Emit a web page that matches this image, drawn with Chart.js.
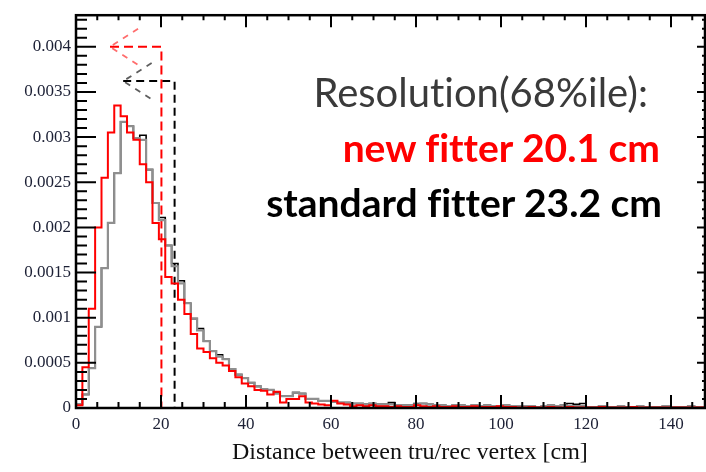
<!DOCTYPE html>
<html>
<head>
<meta charset="utf-8">
<script src="https://cdn.jsdelivr.net/npm/chart.js@4/dist/chart.umd.min.js"></script>
<style>
  html, body { margin: 0; padding: 0; background: #fff; }
  #wrap { position: relative; width: 706px; height: 472px; overflow: hidden; }
  #histChart { position: absolute; left: 0; top: 0; }
  .note { position: absolute; white-space: nowrap; line-height: 1; font-family: Lato, "Open Sans", sans-serif;
          font-variant-ligatures: none; }
  #xTitle { position: absolute; left: 232px; top: 439px; white-space: nowrap; line-height: 1;
            font-family: "Liberation Serif", serif; font-size: 24px; color: #111; }
</style>
</head>
<body>
<div id="wrap">
  <canvas id="histChart" width="706" height="472"></canvas>
  <div class="note" style="right:58px; top:72px; font-size:40px; color:#3a3a3a;">Resolution(68%ile):</div>
  <div class="note" style="right:46px; top:128px; font-size:39px; font-weight:bold; color:#ff0000;">new fitter 20.1 cm</div>
  <div class="note" style="right:44px; top:183px; font-size:39px; font-weight:bold; color:#000;">standard fitter 23.2 cm</div>
  <div id="xTitle">Distance between tru/rec vertex [cm]</div>
</div>
<script>
// histogram bins, 1.5 cm wide, starting at 0
const binWidth = 1.5;

const newFitter = [
  0.00003, 0.00045, 0.0011, 0.002, 0.00255, 0.00305, 0.00335, 0.00323, 0.00305, 0.00297,
  0.0027, 0.0025, 0.00205, 0.00187, 0.00145, 0.00138, 0.0012, 0.00104, 0.00082, 0.00066,
  0.00062, 0.00055, 0.0005, 0.00047, 0.00041, 0.00034, 0.00027, 0.00024, 0.0002, 0.00019,
  0.00015, 0.00018, 0.00006, 0.0001, 0.0001, 0.00013, 0.00006, 0.00005, 0.00004, 0.00003,
  0.00008, 0.00005, 0.00004, 0.00002, 0.00003, 0.00002, 0.00003, 0.00002, 0.00002, 0.00001,
  0.00002, 0.00001, 0.00001, 0.00003, 0.00002, 0.00001, 0.00002, 0.00001, 0.00001, 0.00002,
  0.00001, 0.00001, 0.00002, 0.00001, 0.00001, 0.00001, 0.00002, 0.00001, 0.00001, 0.000005,
  0.000005, 0.00001, 0.000005, 0.000005, 0.00001, 0.000005, 0.000005, 0.00001, 0.000005, 0.000005,
  0.000005, 0.000005, 0.00001, 0.000005, 0.000005, 0.000005, 0.000005, 0.00001, 0.000005, 0.000005,
  0.000005, 0.000005, 0.000005, 0.000005, 0.000005, 0.000005, 0.000005, 0.000005, 0.000005
];

const standardFitter = [
  0.00004, 0.00015, 0.00044, 0.0009, 0.00155, 0.00205, 0.0026, 0.00317, 0.00312, 0.00299,
  0.00302, 0.00264, 0.00227, 0.00211, 0.0018, 0.0016, 0.00141, 0.00116, 0.00099, 0.00088,
  0.00074, 0.00063, 0.00059, 0.00054, 0.00043, 0.00037, 0.00033, 0.00028, 0.00024, 0.00021,
  0.0002, 0.00017, 0.00013, 0.00013, 0.00017, 0.00016, 0.0001, 0.0001, 0.00008, 0.00008,
  0.00007, 0.00006, 0.00006, 0.00005, 0.00005, 0.00004, 0.00005, 0.00004, 0.00004, 0.00006,
  0.00003, 0.00003, 0.00003, 0.00005, 0.00005, 0.00004, 0.00003, 0.00003, 0.00002, 0.00003,
  0.00003, 0.00002, 0.00003, 0.00002, 0.00003, 0.00002, 0.00002, 0.00003, 0.00002, 0.00002,
  0.00002, 0.00002, 0.00001, 0.00002, 0.00003, 0.00002, 0.00003, 0.00005, 0.00004, 0.00005,
  0.00001, 0.00001, 0.00002, 0.00001, 0.00001, 0.00002, 0.00001, 0.00001, 0.00002, 0.00001,
  0.00001, 0.00001, 0.00002, 0.00001, 0.00001, 0.00001, 0.00002, 0.00001, 0.00001
];

// second (grey) copy of the standard sample
const standardGrey = [
  0.00004, 0.00015, 0.00044, 0.0009, 0.00155, 0.00205, 0.0026, 0.00317, 0.00312, 0.00299,
  0.00297, 0.00264, 0.00227, 0.00208, 0.0018, 0.00157, 0.00138, 0.00116, 0.00099, 0.00086,
  0.00074, 0.00063, 0.00057, 0.00054, 0.00043, 0.00037, 0.00033, 0.00028, 0.00024, 0.00021,
  0.0002, 0.00016, 0.00013, 0.00013, 0.00017, 0.00016, 0.0001, 0.0001, 0.00008, 0.00008,
  0.00007, 0.00006, 0.00006, 0.00005, 0.00005, 0.00004, 0.00005, 0.00004, 0.00004, 0.00004,
  0.00003, 0.00003, 0.00003, 0.00004, 0.00005, 0.00004, 0.00003, 0.00003, 0.00002, 0.00003,
  0.00003, 0.00002, 0.00003, 0.00002, 0.00003, 0.00002, 0.00002, 0.00003, 0.00002, 0.00002,
  0.00002, 0.00002, 0.00001, 0.00002, 0.00003, 0.00002, 0.00003, 0.00002, 0.00002, 0.00002,
  0.00001, 0.00001, 0.00002, 0.00001, 0.00001, 0.00002, 0.00001, 0.00001, 0.00002, 0.00001,
  0.00001, 0.00001, 0.00002, 0.00001, 0.00001, 0.00001, 0.00002, 0.00001, 0.00001
];

// 68% resolution markers: [new, standard]
const resolution = [20.1, 23.2];
const markerTop = [0.004, 0.00362];
const arrowTip = [8, 11.1];
const arrowTail = [14.6, 17.8];
const arrowSpread = 0.0002;

const xTicks = [0, 20, 40, 60, 80, 100, 120, 140];
const xTickLabels = ["0", "20", "40", "60", "80", "100", "120", "140"];
const yTicks = [0, 0.0005, 0.001, 0.0015, 0.002, 0.0025, 0.003, 0.0035, 0.004];
const yTickLabels = ["0", "0.0005", "0.001", "0.0015", "0.002", "0.0025", "0.003", "0.0035", "0.004"];

const xMax = 148;
const yMax = 0.00435;

function histPoints(values) {
  const pts = [{ x: 0, y: 0 }];
  values.forEach((v, i) => pts.push({ x: i * binWidth, y: v }));
  pts.push({ x: values.length * binWidth, y: values[values.length - 1] });
  return pts;
}

function markerLine(i) {
  return [
    { x: arrowTip[i], y: markerTop[i] },
    { x: resolution[i], y: markerTop[i] },
    { x: resolution[i], y: 0 }
  ];
}

function arrowHead(i) {
  return [
    { x: arrowTail[i], y: markerTop[i] + arrowSpread },
    { x: arrowTip[i], y: markerTop[i] },
    { x: arrowTail[i], y: markerTop[i] - arrowSpread }
  ];
}

const histStyle = { stepped: true, pointRadius: 0, fill: false, tension: 0 };
const dashStyle = { pointRadius: 0, fill: false, tension: 0, borderWidth: 2 };

// frame with inward ticks on all four sides
const frameTicks = {
  id: "frameTicks",
  afterDatasetsDraw(chart) {
    const { ctx, chartArea: a, scales: { x, y } } = chart;
    ctx.save();
    ctx.strokeStyle = "#000";
    ctx.lineWidth = 2;
    ctx.beginPath();
    for (let v = 0; v <= xMax; v += 5) {
      const px = x.getPixelForValue(v);
      const major = v % 20 === 0;
      ctx.moveTo(px, a.bottom); ctx.lineTo(px, a.bottom - (major ? 13 : 6));
      ctx.moveTo(px, a.top); ctx.lineTo(px, a.top + (major ? 12 : 5));
    }
    for (let i = 0; i * 0.0001 <= yMax; i++) {
      const py = y.getPixelForValue(i * 0.0001);
      const major = i % 5 === 0;
      ctx.moveTo(a.left, py); ctx.lineTo(a.left + (major ? 20 : 11), py);
      ctx.moveTo(a.right, py); ctx.lineTo(a.right - (major ? 8 : 3), py);
    }
    ctx.stroke();
    ctx.lineWidth = 2.5;
    ctx.strokeRect(a.left, a.top, a.right - a.left, a.bottom - a.top);
    ctx.restore();
  }
};

new Chart(document.getElementById("histChart").getContext("2d"), {
  type: "line",
  data: {
    datasets: [
      { ...histStyle, data: histPoints(newFitter), borderColor: "#ff0000", borderWidth: 2, order: 0 },
      { ...histStyle, data: histPoints(standardGrey), borderColor: "#8f8f8f", borderWidth: 2.2, order: 1 },
      { ...histStyle, data: histPoints(standardFitter), borderColor: "#000000", borderWidth: 1.6, order: 2 },
      { ...dashStyle, data: markerLine(0), borderColor: "#ff0000", borderDash: [9, 5], order: 3 },
      { ...dashStyle, data: markerLine(1), borderColor: "#000000", borderDash: [8, 5], order: 3 },
      { ...dashStyle, data: arrowHead(0), borderColor: "rgba(255,60,60,0.75)", borderWidth: 1.8, borderDash: [6, 6], order: 3 },
      { ...dashStyle, data: arrowHead(1), borderColor: "rgba(40,40,40,0.75)", borderWidth: 1.8, borderDash: [6, 6], order: 3 }
    ]
  },
  options: {
    responsive: false,
    animation: false,
    devicePixelRatio: 1,
    layout: { padding: { top: 10, right: 1, left: 0, bottom: 0 } },
    plugins: { legend: { display: false }, tooltip: { enabled: false } },
    scales: {
      x: {
        type: "linear",
        min: 0,
        max: xMax,
        grid: { display: false, drawTicks: false },
        border: { display: false },
        afterBuildTicks: (s) => { s.ticks = xTicks.map((v) => ({ value: v })); },
        afterFit: (s) => { s.height = 64; },
        ticks: {
          padding: 6,
          color: "#1c2035",
          font: { family: "Liberation Serif", size: 17 },
          maxRotation: 0,
          callback: (v) => xTickLabels[xTicks.indexOf(v)]
        }
      },
      y: {
        min: 0,
        max: yMax,
        grid: { display: false, drawTicks: false },
        border: { display: false },
        afterBuildTicks: (s) => { s.ticks = yTicks.map((v) => ({ value: v })); },
        afterFit: (s) => { s.width = 76; },
        ticks: {
          padding: 5,
          color: "#1c2035",
          font: { family: "Liberation Serif", size: 17 },
          callback: (v) => yTickLabels[yTicks.indexOf(v)]
        }
      }
    }
  },
  plugins: [frameTicks]
});
</script>
</body>
</html>
